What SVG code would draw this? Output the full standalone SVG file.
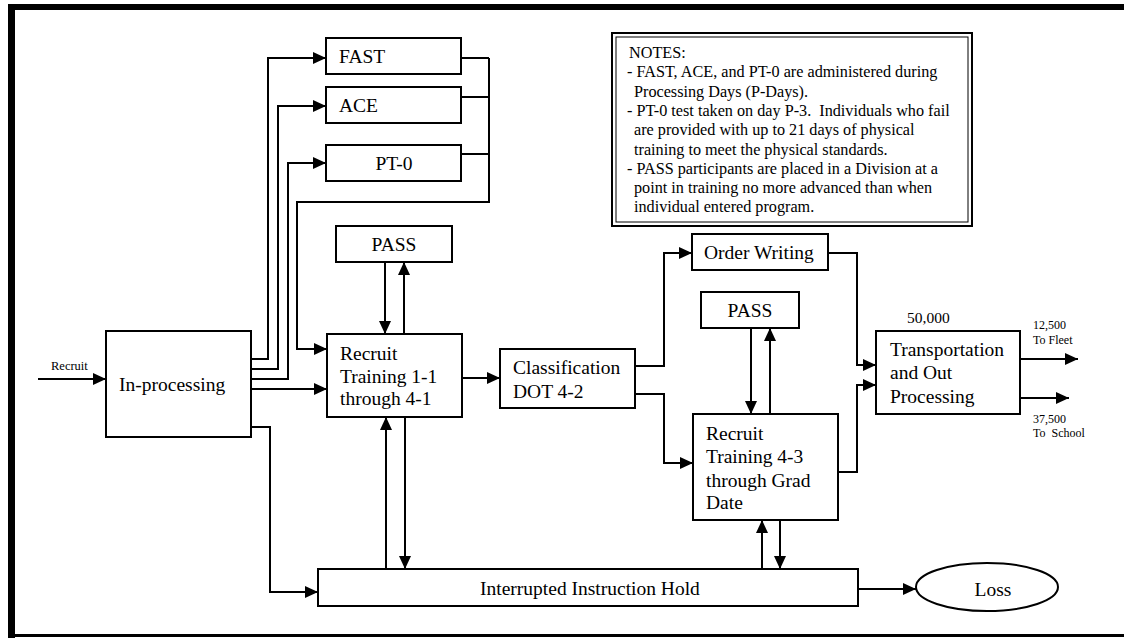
<svg xmlns="http://www.w3.org/2000/svg" width="1124" height="638" viewBox="0 0 1124 638">
<defs>
<marker id="ah" markerUnits="userSpaceOnUse" markerWidth="13" markerHeight="12" refX="13" refY="6" orient="auto">
<path d="M0,0 L13,6 L0,12 Z" fill="#000"/>
</marker>
<style>
.box{fill:#fff;stroke:#000;stroke-width:2}
.t{font-family:"Liberation Serif","Times New Roman",serif;font-size:19.5px;fill:#000}
.n{font-family:"Liberation Serif","Times New Roman",serif;font-size:16.2px;fill:#000}
.s{font-family:"Liberation Serif","Times New Roman",serif;font-size:12px;fill:#000}
.c{fill:none;stroke:#000;stroke-width:2}
.a{fill:none;stroke:#000;stroke-width:2;marker-end:url(#ah)}
</style>
</defs>
<rect x="0" y="0" width="1124" height="638" fill="#fff"/>
<g id="frame">
<rect x="8" y="4" width="1116" height="6" fill="#000"/>
<rect x="8" y="4" width="7" height="634" fill="#000"/>
<rect x="8" y="634" width="1116" height="3" fill="#000"/>
</g>
<g id="notes">
<rect x="612" y="33" width="360" height="193" fill="#fff" stroke="#000" stroke-width="2"/>
<rect x="616" y="37" width="352" height="185" fill="none" stroke="#000" stroke-width="1"/>
<text class="n" x="629" y="58">NOTES:</text>
<text class="n" x="627" y="77.3">- FAST, ACE, and PT-0 are administered during</text>
<text class="n" x="634" y="96.6">Processing Days (P-Days).</text>
<text class="n" x="627" y="115.9" xml:space="preserve">- PT-0 test taken on day P-3.  Individuals who fail</text>
<text class="n" x="634" y="135.2">are provided with up to 21 days of physical</text>
<text class="n" x="634" y="154.5">training to meet the physical standards.</text>
<text class="n" x="627" y="173.8">- PASS participants are placed in a Division at a</text>
<text class="n" x="634" y="193.1">point in training no more advanced than when</text>
<text class="n" x="634" y="212.4">individual entered program.</text>
</g>
<g id="connectors">
<path class="a" d="M38,379 H106"/>
<path class="a" d="M251,359 H268 V58 H326"/>
<path class="a" d="M251,369 H278 V106 H326"/>
<path class="a" d="M251,379 H288 V163 H326"/>
<path class="a" d="M251,389 H327"/>
<path class="c" d="M461,58 H489 M461,97 H489 M461,154 H489"/>
<path class="a" d="M489,58 V202 H297 V349 H327"/>
<path class="a" d="M385,262 V334"/>
<path class="a" d="M404,334 V262"/>
<path class="a" d="M251,427 H270 V592 H318"/>
<path class="a" d="M386,569 V417"/>
<path class="a" d="M405,417 V569"/>
<path class="a" d="M462,378 H500"/>
<path class="a" d="M635,366 H664 V253 H692"/>
<path class="a" d="M635,394 H664 V463 H693"/>
<path class="a" d="M751,328 V414"/>
<path class="a" d="M770,414 V328"/>
<path class="a" d="M762,569 V520"/>
<path class="a" d="M780,520 V569"/>
<path class="a" d="M828,253 H857 V365 H876"/>
<path class="a" d="M838,472 H857 V385 H876"/>
<path class="a" d="M1020,359 H1078"/>
<path class="a" d="M1020,398 H1069"/>
<path class="a" d="M858,589 H916"/>
</g>
<g id="recruit-label"><text class="s" x="51" y="370" style="font-size:12.5px">Recruit</text></g>
<g id="fast"><rect class="box" x="326" y="38" width="135" height="36"/><text class="t" x="339" y="63">FAST</text></g>
<g id="ace"><rect class="box" x="326" y="87" width="135" height="36"/><text class="t" x="339" y="112">ACE</text></g>
<g id="pt0"><rect class="box" x="326" y="145" width="135" height="36"/><text class="t" x="394" y="170" text-anchor="middle">PT-0</text></g>
<g id="pass1"><rect class="box" x="336" y="226" width="116" height="36"/><text class="t" x="394" y="251" text-anchor="middle">PASS</text></g>
<g id="inprocessing"><rect class="box" x="106" y="331" width="145" height="106"/><text class="t" x="119" y="391">In-processing</text></g>
<g id="rt1"><rect class="box" x="327" y="334" width="135" height="83"/>
<text class="t" x="340" y="360">Recruit</text><text class="t" x="340" y="383">Training 1-1</text><text class="t" x="340" y="405">through 4-1</text></g>
<g id="classification"><rect class="box" x="500" y="349" width="135" height="59"/>
<text class="t" x="513" y="374">Classification</text><text class="t" x="513" y="398">DOT 4-2</text></g>
<g id="orderwriting"><rect class="box" x="692" y="234" width="136" height="36"/><text class="t" x="704" y="259">Order Writing</text></g>
<g id="pass2"><rect class="box" x="701" y="292" width="98" height="36"/><text class="t" x="750" y="317" text-anchor="middle">PASS</text></g>
<g id="rt43"><rect class="box" x="693" y="414" width="145" height="106"/>
<text class="t" x="706" y="440">Recruit</text><text class="t" x="706" y="463">Training 4-3</text><text class="t" x="706" y="487">through Grad</text><text class="t" x="706" y="509">Date</text></g>
<g id="transport"><rect class="box" x="876" y="331" width="144" height="83"/>
<text class="t" x="890" y="356">Transportation</text><text class="t" x="890" y="379">and Out</text><text class="t" x="890" y="403">Processing</text></g>
<g id="total-label"><text class="t" x="907" y="323" style="font-size:15.5px">50,000</text></g>
<g id="fleet-label"><text class="s" x="1033" y="329">12,500</text><text class="s" x="1033" y="344">To Fleet</text></g>
<g id="school-label"><text class="s" x="1033" y="423">37,500</text><text class="s" x="1033" y="437" xml:space="preserve">To  School</text></g>
<g id="iih"><rect class="box" x="318" y="569" width="540" height="37"/><text class="t" x="480" y="595">Interrupted Instruction Hold</text></g>
<g id="loss"><ellipse cx="987" cy="587" rx="71" ry="24" fill="#fff" stroke="#000" stroke-width="2"/><text class="t" x="993" y="596" text-anchor="middle">Loss</text></g>
</svg>
